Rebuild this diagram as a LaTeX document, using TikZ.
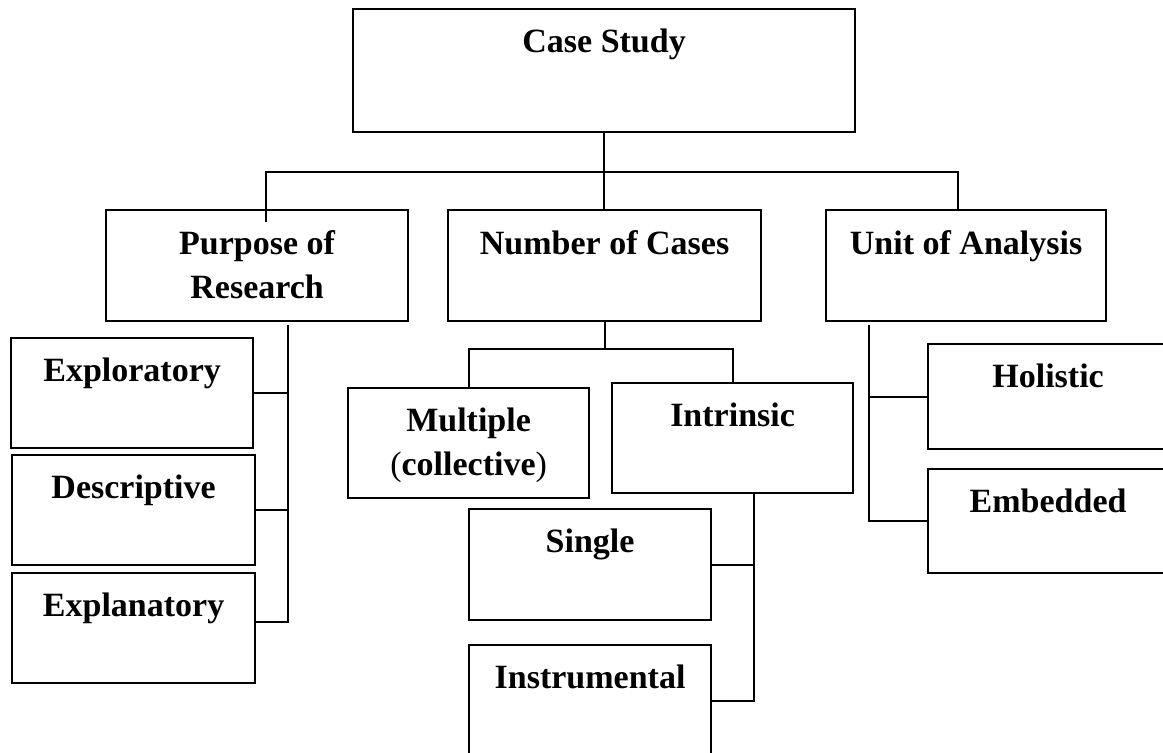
\documentclass[tikz,border=0pt]{standalone}
\usepackage{fontspec}
\setmainfont{Liberation Serif}
\usepackage{tikz}

\tikzset{
  box/.style={draw, line width=2.2pt, anchor=north west, inner sep=0pt},
  lbl/.style={anchor=north, inner sep=0pt, align=center, font=\bfseries\fontsize{34}{44}\selectfont},
  link/.style={line width=2.2pt}
}

\begin{document}
\begin{tikzpicture}[x=1pt,y=-1pt]
\useasboundingbox (0,0) rectangle (1163,753);
% boxes, placed by their top left corner
\node[box, minimum width=502pt, minimum height=123pt] (case) at (352,8) {};
\node[box, minimum width=302pt, minimum height=111pt] (purpose) at (105,209) {};
\node[box, minimum width=313pt, minimum height=111pt] (number) at (447,209) {};
\node[box, minimum width=280pt, minimum height=111pt] (unit) at (825,209) {};
\node[box, minimum width=242pt, minimum height=110pt] (expl) at (10,337) {};
\node[box, minimum width=243pt, minimum height=110pt] (desc) at (11,454) {};
\node[box, minimum width=243pt, minimum height=110pt] (expn) at (11,572) {};
\node[box, minimum width=241pt, minimum height=110pt] (mult) at (347,387) {};
\node[box, minimum width=241pt, minimum height=110pt] (intr) at (611,382) {};
\node[box, minimum width=242pt, minimum height=111pt] (single) at (468,508) {};
\node[box, minimum width=242pt, minimum height=112pt] (instr) at (468,644) {};
\node[box, minimum width=240pt, minimum height=105pt] (hol) at (927,343) {};
\node[box, minimum width=240pt, minimum height=104pt] (emb) at (927,468) {};
% texts, near the top of each box
\node[lbl] (caset) at ([yshift=-21pt]case.north) {Case Study};
\node[lbl] (purposet) at ([yshift=-21pt]purpose.north) {Purpose of\\Research};
\node[lbl] (numbert) at ([yshift=-21pt]number.north) {Number of Cases};
\node[lbl] (unitt) at ([yshift=-21pt]unit.north) {Unit of Analysis};
\node[lbl] (explt) at ([yshift=-21pt]expl.north) {Exploratory};
\node[lbl] (desct) at ([yshift=-21pt]desc.north) {Descriptive};
\node[lbl] (expnt) at ([yshift=-21pt]expn.north) {Explanatory};
\node[lbl] (multt) at ([yshift=-21pt]mult.north) {Multiple\\{\mdseries(}collective{\mdseries)}};
\node[lbl] (intrt) at ([yshift=-21pt]intr.north) {Intrinsic};
\node[lbl] (singlet) at ([yshift=-21pt]single.north) {Single};
\node[lbl] (instrt) at ([yshift=-21pt]instr.north) {Instrumental};
\node[lbl] (holt) at ([yshift=-21pt]hol.north) {Holistic};
\node[lbl] (embt) at ([yshift=-21pt]emb.north) {Embedded};
% first level
\coordinate (bus) at (603,172);
\draw[link] (case.south) -- (case.south |- number.north);
\draw[link] ([xshift=161pt,yshift=-13pt]purpose.north west) |- (bus) -| ([xshift=-8pt]unit.north);
% number of cases
\coordinate (nbus) at ([yshift=-27pt]number.south);
\draw[link] (number.south) -- (nbus);
\draw[link] (mult.north) |- (nbus) -| (intr.north);
\coordinate (stemI) at ([xshift=21pt]intr.south);
\draw[link] (single.east) -- (single.east -| stemI);
\draw[link] (stemI) |- (instr.east);
% purpose of research
\coordinate (stemP) at ([xshift=183pt,yshift=-3pt]purpose.south west);
\draw[link] (expl.east) -- (expl.east -| stemP);
\draw[link] (desc.east) -- (desc.east -| stemP);
\draw[link] (stemP) |- ([yshift=6pt]expn.east);
% unit of analysis
\coordinate (stemU) at ([xshift=44pt,yshift=-3pt]unit.south west);
\draw[link] (hol.west) -- (hol.west -| stemU);
\draw[link] (stemU) |- (emb.west);
\end{tikzpicture}
\end{document}
